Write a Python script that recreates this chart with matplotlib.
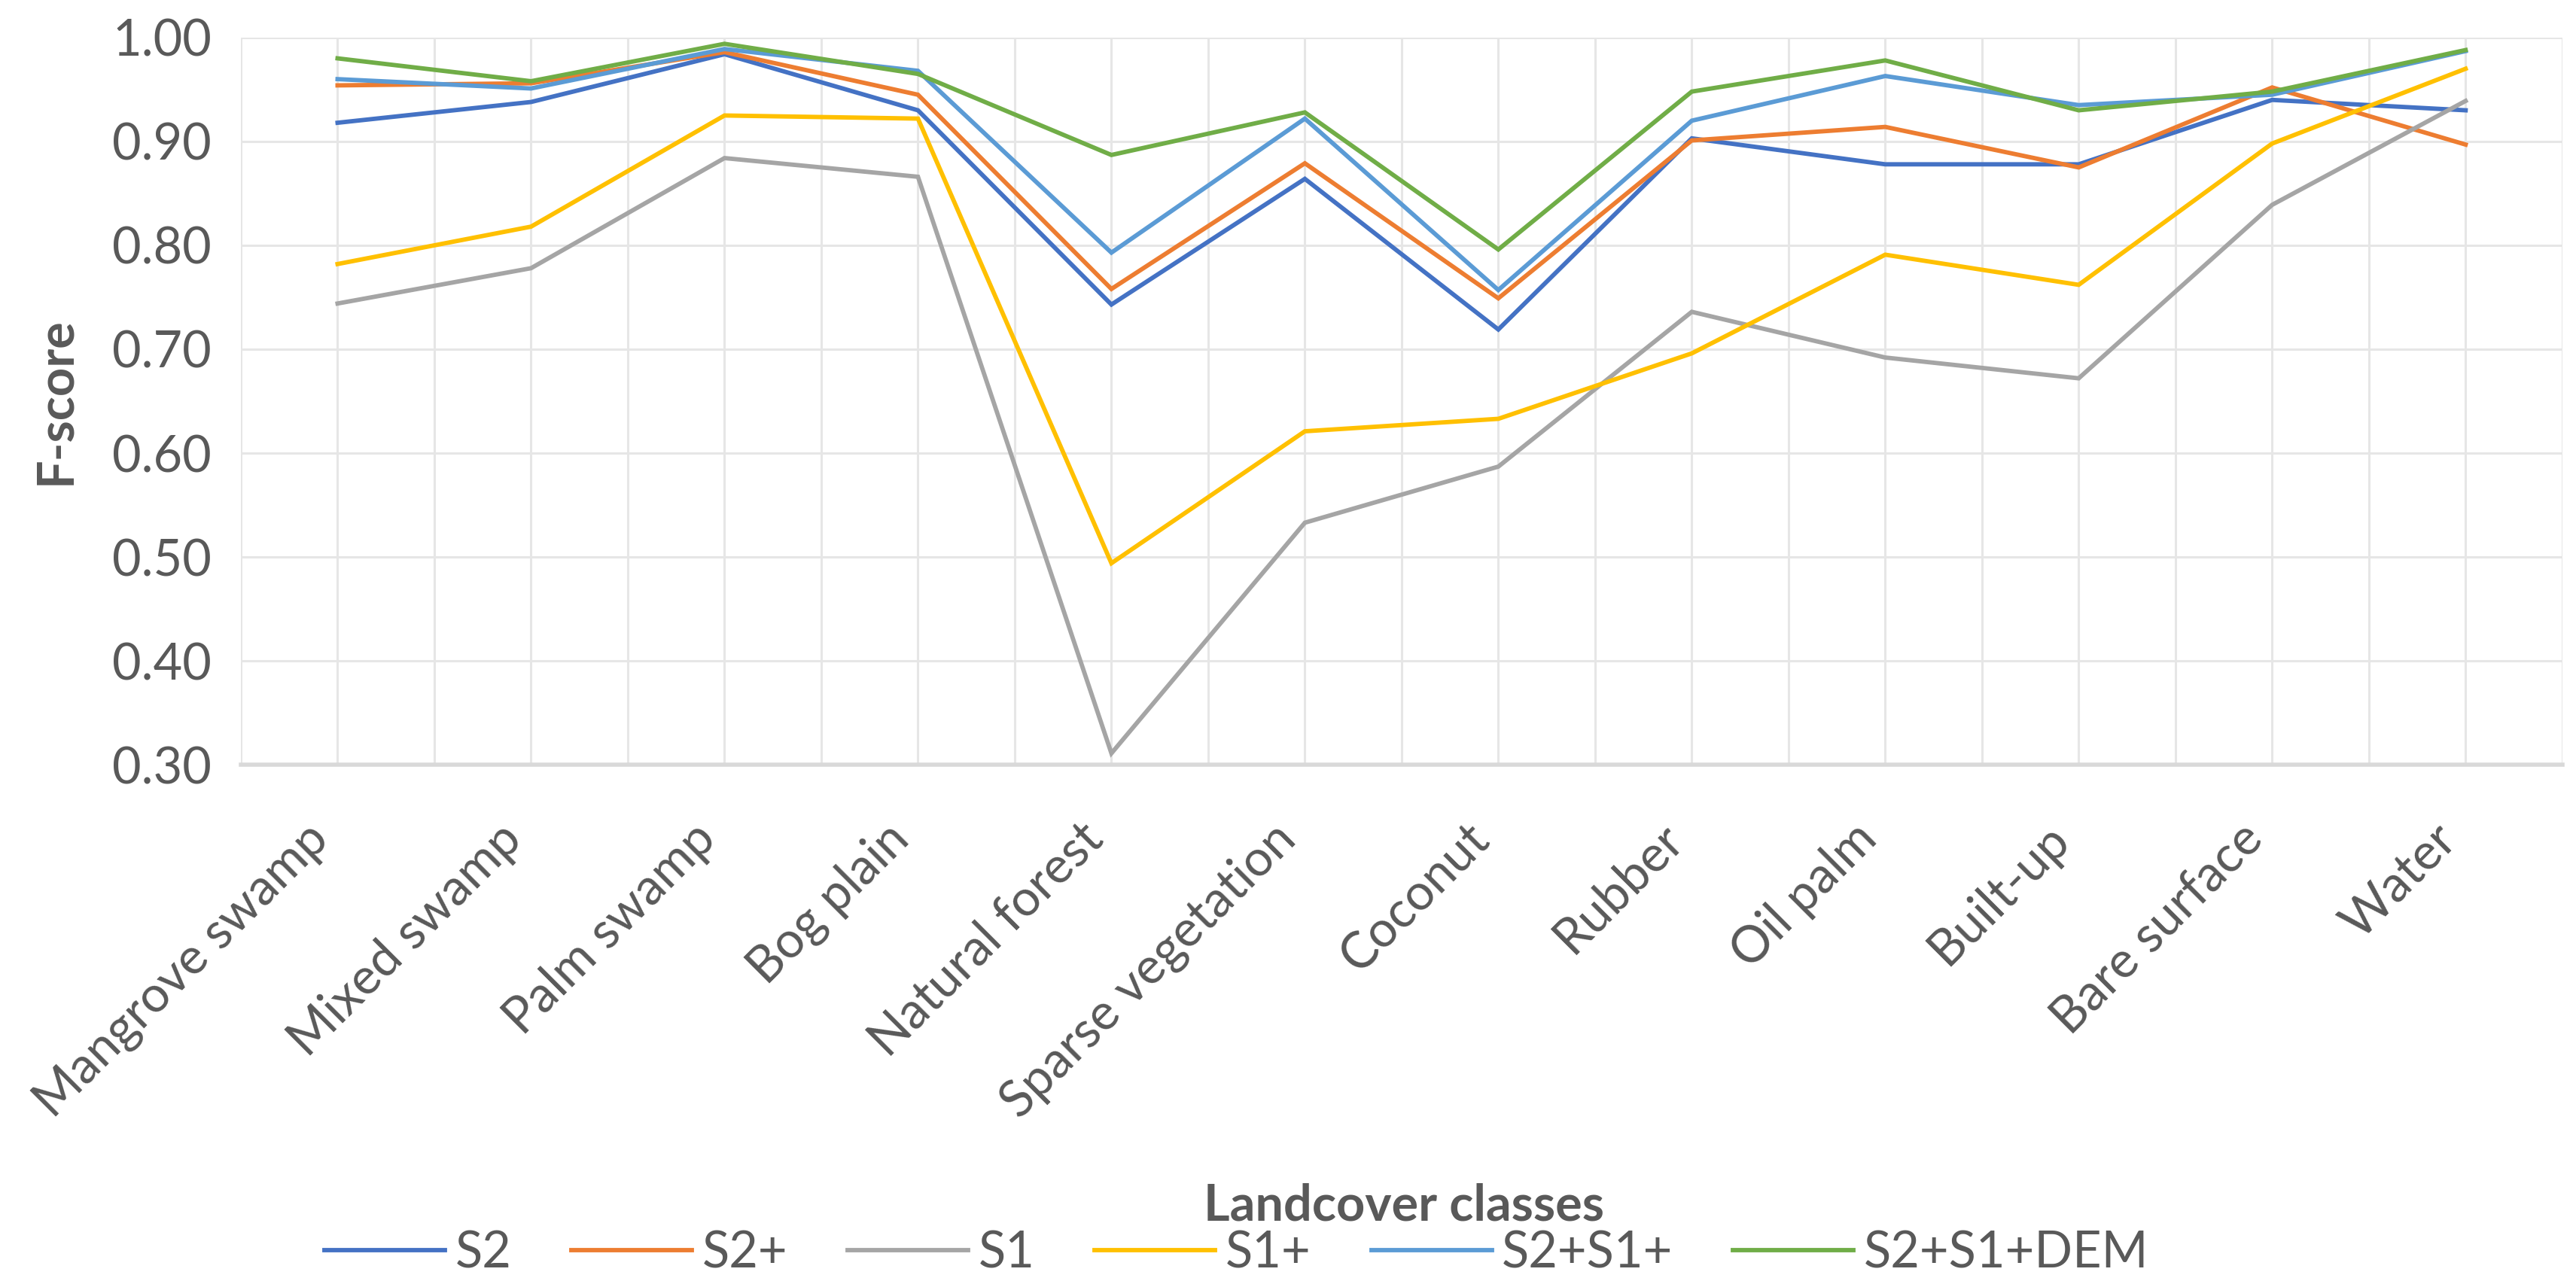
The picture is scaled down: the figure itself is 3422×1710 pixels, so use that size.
import matplotlib.pyplot as plt
from matplotlib.ticker import FixedLocator, MultipleLocator, FormatStrFormatter

plt.rcParams['font.family'] = ['Lato', 'DejaVu Sans']

classes = ["Mangrove swamp", "Mixed swamp", "Palm swamp", "Bog plain", "Natural forest",
           "Sparse vegetation", "Coconut", "Rubber", "Oil palm", "Built-up",
           "Bare surface", "Water"]

s2      = [0.918, 0.938, 0.984, 0.930, 0.743, 0.864, 0.719, 0.903, 0.878, 0.878, 0.940, 0.930]
s2p     = [0.954, 0.956, 0.986, 0.945, 0.758, 0.879, 0.749, 0.901, 0.914, 0.875, 0.952, 0.897]
s1      = [0.744, 0.778, 0.884, 0.866, 0.311, 0.533, 0.587, 0.736, 0.692, 0.672, 0.839, 0.939]
s1p     = [0.782, 0.818, 0.925, 0.922, 0.494, 0.621, 0.633, 0.696, 0.791, 0.762, 0.898, 0.970]
s2s1p   = [0.960, 0.951, 0.989, 0.968, 0.793, 0.922, 0.757, 0.920, 0.963, 0.935, 0.945, 0.987]
s2s1dem = [0.980, 0.958, 0.994, 0.965, 0.887, 0.928, 0.796, 0.948, 0.978, 0.930, 0.948, 0.988]

series = [("S2", s2, "#4472C4"), ("S2+", s2p, "#ED7D31"), ("S1", s1, "#A5A5A5"),
          ("S1+", s1p, "#FFC000"), ("S2+S1+", s2s1p, "#5B9BD5"),
          ("S2+S1+DEM", s2s1dem, "#70AD47")]

txt = "#595959"
fig = plt.figure(figsize=(17.11, 8.55), dpi=200)
ax = fig.add_axes([0.0935, 0.4058, 0.9012, 0.565])

x = list(range(len(classes)))
for name, vals, col in series:
    ax.plot(x, vals, color=col, lw=2.1, label=name, solid_joinstyle="miter")

ax.set_xlim(-0.5, len(classes) - 0.5)
ax.set_ylim(0.30, 1.00)
ax.yaxis.set_major_locator(MultipleLocator(0.10))
ax.yaxis.set_major_formatter(FormatStrFormatter("%.2f"))
ax.set_xticks(x)
ax.set_xticklabels(classes, rotation=45, ha="right")
ax.xaxis.set_minor_locator(FixedLocator([i - 0.5 for i in range(len(classes) + 1)]))

ax.grid(True, which="major", color="#E6E6E6", lw=1.1)
ax.grid(True, which="minor", axis="x", color="#E6E6E6", lw=1.1)
ax.set_axisbelow(True)
for s in ["top", "right", "left"]:
    ax.spines[s].set_visible(False)
ax.spines["bottom"].set_color("#D9D9D9")
ax.spines["bottom"].set_linewidth(2.0)

ax.tick_params(axis="both", which="both", length=0, colors=txt, labelsize=24)
ax.tick_params(axis="y", pad=14)
ax.tick_params(axis="x", pad=24)

ax.set_ylabel("F-score", fontsize=24, fontweight="bold", color=txt, labelpad=16)
fig.text(0.545, 0.063, "Landcover classes", fontsize=24, fontweight="bold",
         color=txt, ha="center", va="center")

fig.legend(loc="center", bbox_to_anchor=(0.48, 0.026), ncol=6, frameon=False,
           fontsize=24, handlelength=2.4, handletextpad=0.2, columnspacing=1.2,
           labelcolor=txt)

fig.savefig("out.png", dpi=200)
